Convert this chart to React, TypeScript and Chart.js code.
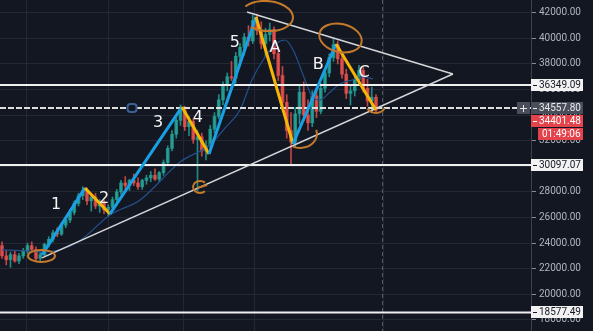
import React, { useEffect, useRef } from 'react';
import { Chart, registerables } from 'chart.js';

Chart.register(...registerables);

// ---- candles (4h BTC) ----
const candleOpen = [
  23800, 23000, 22700, 23100, 22600, 23000, 23400, 23800, 23500, 22800,
  23100, 23900, 24300, 24800, 24700, 25400, 25800, 26400, 27100, 27700,
  28100, 27300, 27600, 26900, 27200, 26600, 26800, 27400, 28000, 28700,
  28500, 28900, 28700, 28400, 28900, 29100, 29300, 29000, 29500, 30300,
  31400, 32500, 33600, 34400, 33100, 33500, 32100, 32300, 31200, 31600,
  32900, 33900, 35200, 36300, 37000, 36900, 38600, 39300, 40100, 39800,
  41400, 40600, 39600, 40300, 40700, 38800, 37100, 35000, 32800, 31900,
  34100, 35800, 34000, 33400, 35500, 34300, 36100, 37300, 38500, 39500,
  38400, 37200, 35700, 35900, 36800, 37500, 36100, 35100, 35400,
];
const candleHigh = [
  24100, 23400, 23300, 23400, 23200, 23600, 24000, 24100, 23700, 23300,
  24000, 24500, 25000, 25200, 25600, 26000, 26600, 27300, 27900, 28400,
  28300, 27800, 27900, 27400, 27400, 27000, 27600, 28200, 28900, 29200,
  29000, 29400, 29100, 29000, 29300, 29600, 29800, 29600, 30500, 31600,
  32800, 33800, 34800, 34700, 33900, 33700, 32800, 32600, 32000, 33200,
  34200, 35600, 36600, 37300, 38200, 38900, 39600, 40400, 41000, 41800,
  41900, 41300, 40800, 41200, 40900, 39300, 37800, 35600, 34200, 34600,
  36400, 36600, 35200, 35900, 36100, 36500, 37600, 38800, 40000, 39800,
  38900, 37600, 36300, 37200, 37900, 37800, 36800, 36200, 35600,
];
const candleLow = [
  22800, 22300, 22100, 22500, 22400, 22800, 23200, 23300, 22600, 22500,
  23000, 23700, 24100, 24500, 24600, 25200, 25600, 26200, 26900, 27400,
  27000, 26500, 26700, 26400, 26300, 26100, 26600, 27200, 27800, 28200,
  28100, 28500, 28200, 28200, 28600, 28800, 28900, 28800, 29300, 30100,
  31200, 32200, 33200, 32800, 32400, 31800, 28100, 30800, 30500, 31300,
  32600, 33700, 34800, 35900, 36700, 36500, 37800, 38700, 39400, 39600,
  40300, 39200, 38600, 39800, 38400, 36700, 34600, 32200, 30200, 31500,
  33300, 33600, 32800, 33100, 33800, 34100, 35800, 37000, 38200, 38000,
  36900, 35300, 34800, 35500, 36300, 35800, 34700, 34300, 34200,
];
const candleClose = [
  23000, 22700, 23100, 22600, 23000, 23400, 23800, 23500, 22800, 23100,
  23900, 24300, 24800, 24700, 25400, 25800, 26400, 27100, 27700, 28100,
  27300, 27600, 26900, 27200, 26600, 26800, 27400, 28000, 28700, 28500,
  28900, 28700, 28400, 28900, 29100, 29300, 29000, 29500, 30300, 31400,
  32500, 33600, 34400, 33100, 33500, 32100, 32300, 31200, 31600, 32900,
  33900, 35200, 36300, 37000, 36900, 38600, 39300, 40100, 39800, 41400,
  40600, 39600, 40300, 40700, 38800, 37100, 35000, 32800, 31900, 34100,
  35800, 34000, 33400, 35500, 34300, 36100, 37300, 38500, 39500, 38400,
  37200, 35700, 35900, 36800, 37500, 36100, 35100, 35400, 34400,
];

// ---- moving average ----
const maIndex = [0, 5.4, 10.1, 17.9, 25.4, 32.5, 41.9, 48.9, 52.5, 56.0, 58.8, 61.9, 64.7, 66.6, 68.5, 71.3, 73.2, 74.8, 77.2, 79.5, 82.4, 84.9, 87.3];
const maPrice = [23469, 23391, 23313, 24094, 26203, 27375, 30344, 31672, 33000, 34406, 36750, 38547, 39641, 39875, 39094, 36750, 35344, 35188, 35813, 36438, 36750, 36984, 36828];

// ---- Elliott waves ----
const waveIndex = [9.41, 19.53, 25.41, 42.35, 48.71, 59.76, 68.47, 78.59, 88.0];
const wavePrice = [23078, 28312, 26281, 34641, 30969, 41672, 31750, 39563, 34406];
const waveLabels = ['1', '2', '3', '4', '5', 'A', 'B', 'C'];
const waveLabelIndex = [12.7, 24.0, 36.7, 46.1, 54.8, 64.2, 74.4, 85.2];
const waveLabelPrice = [26984, 27453, 33391, 33781, 39641, 39250, 37922, 37297];

// ---- triangle ----
const triUpperIndex = [57.65, 106.1];
const triUpperPrice = [42063, 37219];
const triLowerIndex = [9.41, 106.1];
const triLowerPrice = [22844, 37219];

// ---- horizontal levels ----
const levelPrices = [36349.09, 30097.07, 18577.49];
const crossPrice = 34557.8;
const lastPrice = 34401.48;
const countdown = '01:49:06';

// ---- price axis ticks ----
const yTicks = [18000, 20000, 22000, 24000, 26000, 28000, 30000, 32000, 34000, 36000, 38000, 40000, 42000];

// ---- hand-drawn marks ----
const markIndex = [9.29, 62.35, 79.65, 70.1, 88.0, 46.6];
const markPrice = [23000, 41750, 40031, 32531, 34719, 28391];

const gridIndex = [15.5, 34.8, 50.8, 67.8, 111.8];
const crosshairIndex = 89.4;
const anchorIndex = 30.6;

const X_MIN = -0.47;
const X_MAX = 124.47;
const Y_MIN = 17130;
const Y_MAX = 43000;

const UP = 'rgba(38,166,154,0.8)';
const DOWN = 'rgba(239,83,80,0.78)';
const BLUE = '#1b9fe4';
const YELLOW = '#f7b606';
const ORANGE = '#c47a2a';

const fmt = (v: number) => v.toFixed(2);

const overlay = {
  id: 'overlay',
  beforeDatasetsDraw(chart: any) {
    const { ctx, chartArea, scales } = chart;
    const x = scales.x;
    ctx.save();
    ctx.strokeStyle = 'rgba(140,144,158,0.55)';
    ctx.setLineDash([4, 3]);
    ctx.lineWidth = 1;
    const cx = Math.round(x.getPixelForValue(crosshairIndex)) + 0.5;
    ctx.beginPath();
    ctx.moveTo(cx, chartArea.top);
    ctx.lineTo(cx, chartArea.bottom);
    ctx.stroke();
    ctx.restore();
  },
  afterDatasetsDraw(chart: any) {
    const { ctx, scales } = chart;
    const x = scales.x;
    const y = scales.y;
    ctx.save();
    // hand drawn ellipses / arcs: [rx, ry, rotation, start, end, anticlockwise]
    const shapes: [number, number, number, number, number, boolean][] = [
      [13.5, 6, 0, 0, Math.PI * 2, false],
      [26, 15, 0.08, -2.6, 2.2, false],
      [21.5, 14, 0.22, 0, Math.PI * 2, false],
      [17, 14, 0, -0.3, 2.0, false],
      [9, 7, 0, 0.3, 2.8, false],
      [7, 6, 0, -0.8, 0.8, true],
    ];
    ctx.strokeStyle = ORANGE;
    ctx.lineWidth = 2;
    shapes.forEach((s, i) => {
      const px = x.getPixelForValue(markIndex[i]);
      const py = y.getPixelForValue(markPrice[i]);
      ctx.beginPath();
      ctx.ellipse(px, py, s[0], s[1], s[2], s[3], s[4], s[5]);
      ctx.stroke();
      if (i === 5) {
        ctx.beginPath();
        ctx.moveTo(px - 3, py + 1);
        ctx.lineTo(px + 7, py - 2);
        ctx.stroke();
      }
    });
    // anchor on crosshair line
    const ax = x.getPixelForValue(anchorIndex);
    const ay = y.getPixelForValue(crossPrice);
    ctx.fillStyle = '#131722';
    ctx.strokeStyle = '#3e5f94';
    ctx.lineWidth = 2;
    ctx.beginPath();
    (ctx as any).roundRect(ax - 4.5, ay - 4, 9, 8, 3);
    ctx.fill();
    ctx.stroke();
    // wave labels
    ctx.fillStyle = '#f4f4f4';
    ctx.font = '16px "DejaVu Sans"';
    ctx.textAlign = 'center';
    ctx.textBaseline = 'middle';
    waveLabels.forEach((t, i) => {
      ctx.fillText(t, x.getPixelForValue(waveLabelIndex[i]), y.getPixelForValue(waveLabelPrice[i]));
    });
    ctx.restore();
  },
  afterDraw(chart: any) {
    const { ctx, scales } = chart;
    const y = scales.y;
    const left = y.left;
    const right = left + 52;
    const h = 12;
    ctx.save();
    ctx.font = '10px Roboto';
    ctx.textBaseline = 'middle';
    ctx.textAlign = 'left';
    const box = (cy: number, text: string, bg: string, fg: string, x0 = left, dash = true) => {
      ctx.fillStyle = bg;
      ctx.fillRect(x0, Math.round(cy - h / 2), right - x0, h);
      ctx.fillStyle = fg;
      if (dash) ctx.fillRect(left + 2, Math.round(cy), 4, 1);
      ctx.fillText(text, left + 8, cy + 0.5);
    };
    levelPrices.forEach((p) => box(y.getPixelForValue(p), fmt(p), '#f2f2f2', '#131722'));
    const cy = y.getPixelForValue(crossPrice);
    box(cy, fmt(crossPrice), '#4a4e5a', '#e8e8ea');
    // plus button
    ctx.fillStyle = '#4a4e5a';
    ctx.fillRect(left - 14, Math.round(cy - h / 2), 13, h);
    ctx.fillStyle = '#e8e8ea';
    ctx.fillRect(left - 11, Math.round(cy), 7, 1);
    ctx.fillRect(left - 8, Math.round(cy) - 3, 1, 7);
    const ly = Math.max(y.getPixelForValue(lastPrice), cy + 13);
    box(ly, fmt(lastPrice), '#e5434b', '#ffffff');
    ctx.fillStyle = '#e5434b';
    ctx.fillRect(left + 7, Math.round(ly + 13 - h / 2), right - left - 7, h);
    ctx.fillStyle = '#ffffff';
    ctx.fillText(countdown, left + 11, ly + 13.5);
    ctx.restore();
  },
};

export default function App() {
  const ref = useRef<HTMLCanvasElement>(null);
  useEffect(() => {
    document.body.style.margin = '0';
    document.body.style.background = '#131722';
    const idx = candleOpen.map((_, i) => i);
    const chart = new Chart(ref.current as HTMLCanvasElement, {
      type: 'bar',
      data: {
        datasets: [
          {
            type: 'line',
            order: 0,
            data: waveIndex.map((v, i) => ({ x: v, y: wavePrice[i] })),
            borderWidth: 3,
            borderColor: BLUE,
            pointRadius: 0,
            segment: { borderColor: (c: any) => (c.p0DataIndex % 2 === 0 ? BLUE : YELLOW) },
          } as any,
          {
            type: 'line',
            order: 1,
            data: triUpperIndex.map((v, i) => ({ x: v, y: triUpperPrice[i] })),
            borderColor: '#d6d6d9',
            borderWidth: 1.5,
            pointRadius: 0,
          },
          {
            type: 'line',
            order: 1,
            data: triLowerIndex.map((v, i) => ({ x: v, y: triLowerPrice[i] })),
            borderColor: '#d6d6d9',
            borderWidth: 1.5,
            pointRadius: 0,
          },
          ...levelPrices.map((p) => ({
            type: 'line',
            order: 2,
            data: [{ x: X_MIN, y: p }, { x: X_MAX, y: p }],
            borderColor: '#f0f0f0',
            borderWidth: 2,
            pointRadius: 0,
          })),
          {
            type: 'line',
            order: 2,
            data: [{ x: X_MIN, y: crossPrice }, { x: X_MAX, y: crossPrice }],
            borderColor: '#dedede',
            borderWidth: 2,
            borderDash: [6, 2],
            pointRadius: 0,
          },
          {
            type: 'line',
            order: 3,
            data: maIndex.map((v, i) => ({ x: v, y: maPrice[i] })),
            borderColor: '#24508c',
            borderWidth: 1.2,
            pointRadius: 0,
            cubicInterpolationMode: 'monotone',
          },
          {
            type: 'bar',
            order: 4,
            data: idx.map((i) => ({ x: i, y: [Math.min(candleOpen[i], candleClose[i]), Math.max(candleOpen[i], candleClose[i])] })),
            backgroundColor: (c: any) => (candleClose[c.dataIndex] >= candleOpen[c.dataIndex] ? UP : DOWN),
            barThickness: 3,
            grouped: false,
            borderWidth: 0,
          },
          {
            type: 'bar',
            order: 5,
            data: idx.map((i) => ({ x: i, y: [candleLow[i], candleHigh[i]] })),
            backgroundColor: (c: any) => (candleClose[c.dataIndex] >= candleOpen[c.dataIndex] ? UP : DOWN),
            barThickness: 1,
            grouped: false,
            borderWidth: 0,
          },
        ] as any,
      },
      options: {
        animation: false,
        responsive: false,
        devicePixelRatio: 1,
        layout: { padding: 0 },
        plugins: { legend: { display: false }, tooltip: { enabled: false } },
        scales: {
          x: {
            type: 'linear',
            min: X_MIN,
            max: X_MAX,
            offset: false,
            afterBuildTicks: (s: any) => {
              s.ticks = gridIndex.map((v) => ({ value: v }));
            },
            afterFit: (s: any) => {
              s.height = 0;
              s.paddingLeft = 0;
              s.paddingRight = 0;
            },
            ticks: { display: false },
            grid: { color: '#242835', drawTicks: false, lineWidth: 1 },
            border: { display: false },
          },
          y: {
            type: 'linear',
            position: 'right',
            min: Y_MIN,
            max: Y_MAX,
            afterBuildTicks: (s: any) => {
              s.ticks = yTicks.map((v) => ({ value: v }));
            },
            afterFit: (s: any) => {
              s.width = 62;
              s.paddingTop = 0;
              s.paddingBottom = 0;
            },
            ticks: {
              autoSkip: false,
              color: '#b2b5be',
              font: { family: 'Roboto', size: 10 },
              padding: 3,
              callback: (v: any) => Number(v).toFixed(2),
            },
            grid: { color: '#242835', tickLength: 5, tickColor: '#8a8d97' },
            border: { color: '#3d414c' },
          },
        },
      } as any,
      plugins: [overlay],
    });
    return () => chart.destroy();
  }, []);
  return (
    <div style={{ position: 'absolute', left: 0, top: 0, width: 593, height: 331, background: '#131722' }}>
      <canvas ref={ref} width={593} height={331} />
    </div>
  );
}
